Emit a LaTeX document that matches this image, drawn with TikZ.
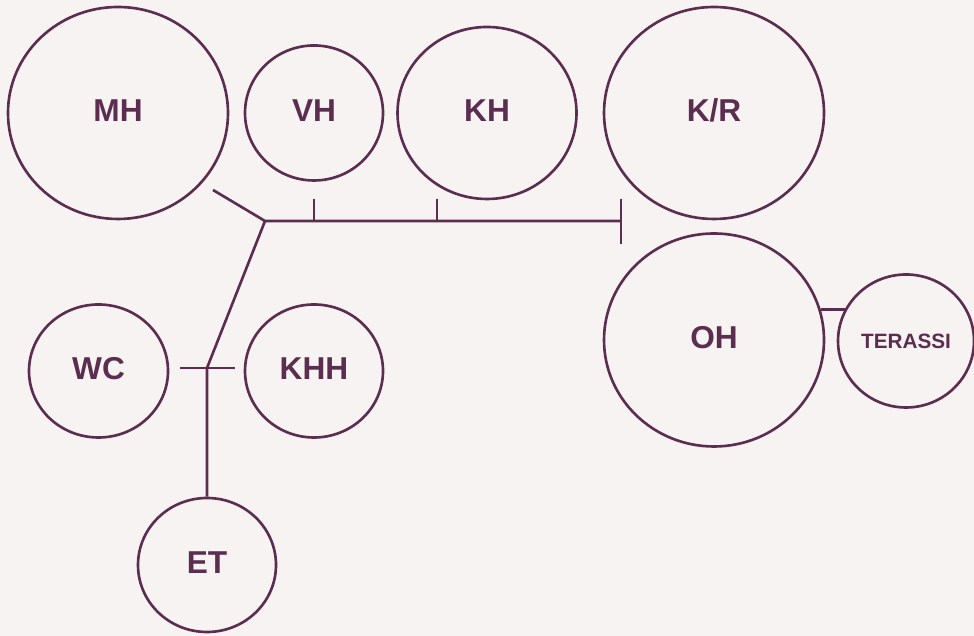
\documentclass[tikz,border=0pt]{standalone}
\usepackage{fontspec}
\setmainfont{Liberation Sans}
\usepackage{xcolor}
\usetikzlibrary{shapes.geometric}
\definecolor{plum}{HTML}{5B2E50}
\definecolor{paper}{HTML}{F7F3F2}
\begin{document}
\begin{tikzpicture}[line width=0.75pt,draw=plum,
  room/.style={ellipse,draw=plum,inner sep=0pt,text=plum,text depth=0.05cm,font=\fontsize{9}{10}\selectfont\bfseries},
  small/.style={text depth=0pt,font=\fontsize{5.9}{7}\selectfont\bfseries}]
\fill[paper](0,0)rectangle(9.74,6.36);
\useasboundingbox(0,0)rectangle(9.74,6.36);
\node[room,minimum width=2.2cm,minimum height=2.12cm](MH)at(1.18,5.23){MH};
\node[room,minimum width=1.38cm,minimum height=1.35cm](VH)at(3.14,5.23){VH};
\node[room,minimum width=1.79cm,minimum height=1.72cm](KH)at(4.87,5.23){KH};
\node[room,minimum width=2.2cm,minimum height=2.12cm](KR)at(7.14,5.23){K/R};
\node[room,minimum width=2.2cm,minimum height=2.13cm](OH)at(7.14,2.96){OH};
\node[room,small,minimum width=1.36cm,minimum height=1.33cm](TER)at(9.06,2.95){TERASSI};
\node[room,minimum width=1.39cm,minimum height=1.33cm](WC)at(0.985,2.65){WC};
\node[room,minimum width=1.38cm,minimum height=1.33cm](KHH)at(3.14,2.65){KHH};
\node[room,minimum width=1.38cm,minimum height=1.34cm](ET)at(2.07,0.71){ET};
% corridor
\coordinate(hall)at(2.65,4.15);
\coordinate(hallend)at(6.21,4.15);
\coordinate(lobby)at(2.07,2.68);
\draw[plum](2.13,4.46)--(hall)--(hallend);
\draw[plum](6.21,4.37)--(6.21,3.92);
\draw[plum](3.14,4.37)--(3.14,4.15);
\draw[plum](4.37,4.37)--(4.37,4.15);
\draw[plum](hall)--(lobby)--(ET);
\draw[plum](1.80,2.68)--(2.35,2.68);
\draw[plum](OH.16)--(OH.16-|TER.150);
\end{tikzpicture}
\end{document}
